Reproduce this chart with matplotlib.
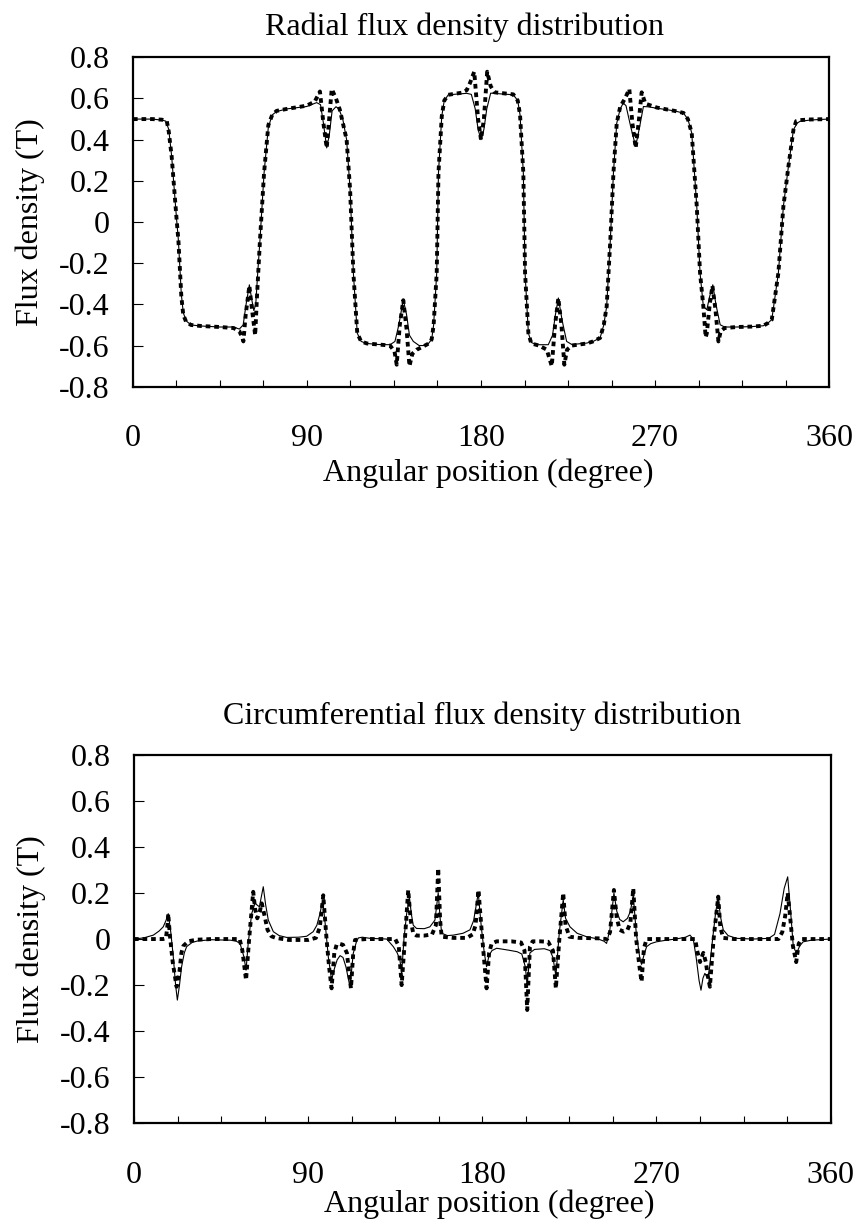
import matplotlib
matplotlib.use("Agg")
import matplotlib.pyplot as plt
from matplotlib.ticker import FixedLocator, MultipleLocator

plt.rcParams['font.family'] = ['Liberation Serif', 'DejaVu Serif']
plt.rcParams['font.size'] = 23

# radial flux density, thin solid line
rad_solid_deg = [0, 10, 15, 17, 18.5, 20, 21, 22.5, 23.5, 25, 26, 27.5, 30, 35, 45, 52, 55, 57, 58.5, 60.2,
                 61.5, 62.5, 63.5, 64.5, 65.7, 67.8, 70, 72, 74.3, 80, 89.8, 95, 97, 98.5, 100.2, 101.5, 103, 105,
                 106.5, 108.5, 110.5, 112.3, 114, 116, 118, 121, 127, 133, 135.5, 137.5, 139.8, 141.5, 143, 145,
                 148, 152, 154.5, 155.5, 157.1, 158, 159.7, 161, 163.1, 172.6, 175, 177, 178.5, 180, 181.5, 183,
                 185, 196.7, 199, 200.2, 201.9, 202.8, 204.5, 206, 208.8, 214.8, 217, 218.5, 220, 222, 224.3, 227,
                 234.7, 238, 241.6, 243.5, 245, 246.9, 248.5, 250.2, 252, 253.6, 255, 257.5, 260, 262, 264, 266,
                 270.9, 280, 284.7, 287, 289, 291.6, 293.3, 295, 296.8, 298.3, 299.9, 301.5, 303.7, 306, 312.3, 320,
                 326, 328.5, 330.4, 333.8, 336.4, 339, 341.6, 343.5, 345, 350, 355, 360]
rad_solid_val = [0.50, 0.50, 0.495, 0.49, 0.45, 0.32, 0.20, 0.02, -0.09, -0.35, -0.44, -0.48, -0.50, -0.505, -0.51,
                 -0.51, -0.52, -0.50, -0.40, -0.305, -0.38, -0.43, -0.40, -0.25, -0.086, 0.238, 0.46, 0.52, 0.537,
                 0.55, 0.561, 0.58, 0.57, 0.48, 0.36, 0.42, 0.54, 0.56, 0.55, 0.50, 0.40, 0.157, -0.248, -0.54,
                 -0.58, -0.59, -0.595, -0.596, -0.58, -0.50, -0.377, -0.45, -0.55, -0.58, -0.60, -0.60, -0.57,
                 -0.50, -0.248, 0.238, 0.513, 0.59, 0.618, 0.625, 0.62, 0.55, 0.45, 0.40, 0.45, 0.55, 0.626, 0.618,
                 0.59, 0.52, 0.238, -0.248, -0.539, -0.585, -0.596, -0.596, -0.55, -0.45, -0.369, -0.48, -0.58,
                 -0.595, -0.588, -0.58, -0.563, -0.50, -0.41, -0.086, 0.238, 0.48, 0.55, 0.578, 0.565, 0.46, 0.367,
                 0.46, 0.561, 0.56, 0.553, 0.54, 0.529, 0.50, 0.432, 0.076, -0.248, -0.41, -0.426, -0.36, -0.305,
                 -0.40, -0.499, -0.51, -0.51, -0.508, -0.504, -0.49, -0.474, -0.248, 0.076, 0.27, 0.448, 0.48,
                 0.489, 0.495, 0.498, 0.50]

# radial flux density, heavy dotted line
rad_dot_deg = [0, 10, 15, 17.5, 18.5, 20, 21, 22.5, 23.5, 25, 26, 27.5, 30, 35, 45, 52, 55, 56.5, 57.1, 58.3, 60.2,
               61.5, 63.2, 64.2, 65.7, 67.8, 70, 72, 74.3, 80, 89.8, 94, 96.7, 98.5, 100.2, 101.5, 102.8, 105, 107,
               110.5, 112.3, 114, 116, 118, 121, 127, 133, 135.3, 136.4, 138, 139.8, 141.5, 143, 144.5, 146.8, 150,
               153, 154.5, 155.5, 157.1, 158, 159.7, 161, 163.1, 170, 172.6, 174.3, 176.5, 178.5, 180, 181.5, 183.2,
               185, 187, 196.7, 199, 200.2, 201.9, 202.8, 204.5, 206, 210, 214, 216.6, 218.3, 220, 221.6, 223.1,
               224.5, 227, 234.7, 238, 241.6, 243.5, 245, 246.9, 248.5, 250.2, 252, 254.5, 256.7, 258.3, 260, 261.5,
               263.1, 265, 270.9, 280, 284.7, 287, 289, 291.6, 293.3, 295, 296.2, 296.8, 298.3, 299.7, 301.2, 302.8,
               304, 306, 312.3, 320, 326, 328.5, 330.4, 333.8, 336.4, 339, 341.6, 343, 345, 350, 360]
rad_dot_val = [0.50, 0.50, 0.497, 0.49, 0.44, 0.32, 0.20, 0.02, -0.09, -0.36, -0.45, -0.485, -0.50, -0.505, -0.51,
               -0.515, -0.53, -0.56, -0.58, -0.45, -0.31, -0.42, -0.55, -0.35, -0.086, 0.238, 0.47, 0.52, 0.54, 0.55,
               0.565, 0.585, 0.634, 0.48, 0.36, 0.50, 0.646, 0.60, 0.545, 0.40, 0.157, -0.248, -0.54, -0.58, -0.59,
               -0.595, -0.60, -0.63, -0.693, -0.50, -0.38, -0.52, -0.70, -0.64, -0.62, -0.605, -0.59, -0.57, -0.50,
               -0.248, 0.238, 0.513, 0.59, 0.618, 0.628, 0.64, 0.675, 0.73, 0.50, 0.40, 0.50, 0.73, 0.66, 0.63,
               0.62, 0.59, 0.52, 0.238, -0.248, -0.539, -0.59, -0.60, -0.62, -0.70, -0.50, -0.37, -0.50, -0.693,
               -0.62, -0.60, -0.59, -0.58, -0.563, -0.50, -0.41, -0.086, 0.238, 0.48, 0.56, 0.60, 0.646, 0.48, 0.36,
               0.48, 0.63, 0.575, 0.556, 0.54, 0.53, 0.50, 0.432, 0.076, -0.248, -0.41, -0.56, -0.54, -0.40, -0.31,
               -0.42, -0.58, -0.53, -0.515, -0.51, -0.508, -0.504, -0.49, -0.474, -0.248, 0.076, 0.27, 0.448, 0.49,
               0.495, 0.498, 0.50]

# circumferential flux density, thin solid line
circ_solid_deg = [0, 5, 10, 13, 15.1, 16.5, 17.7, 19, 20.3, 21.5, 22.4, 23.5, 24.6, 26, 27.2, 30, 33, 40, 50, 53,
                  54.8, 56.8, 57.9, 59, 60.8, 62.5, 64.8, 66.8, 68, 69.4, 72, 75, 78.9, 85, 89.2, 92.6, 94.5, 96.1,
                  97.5, 99, 100.4, 102.1, 103.5, 105, 106.5, 108, 109.5, 111.6, 113.3, 115, 116, 118, 122, 130.6,
                  134, 136, 137.4, 138.3, 139.5, 140.9, 142.3, 143.3, 144.3, 146, 150, 152.9, 155.5, 157.2, 158.2,
                  159, 162, 165, 170, 173.6, 175.5, 177.9, 179.5, 181, 182.2, 183.5, 185, 187.4, 193.4, 198, 200.4,
                  202.2, 203.2, 204, 204.6, 207, 212, 215, 216.5, 218, 219.8, 221.8, 223, 225.3, 229, 233.9, 240,
                  243, 244.2, 245.9, 248, 249.5, 251, 252.8, 255, 256.5, 258, 259.5, 261.5, 262.3, 263.5, 264.9,
                  267, 270, 275, 280, 285, 287.3, 289, 290.5, 292, 293, 294, 295, 296.5, 297.5, 299, 300.5, 301.9,
                  303, 304.5, 307, 311.4, 320, 328, 331, 333.8, 336, 337.8, 339.3, 340.7, 342.4, 344, 345.8, 350, 360]
circ_solid_val = [0.0, 0.005, 0.017, 0.035, 0.053, 0.08, 0.11, 0.03, -0.077, -0.20, -0.265, -0.20, -0.12, -0.06,
                  -0.033, -0.015, -0.008, -0.003, -0.005, -0.01, -0.019, -0.077, -0.135, -0.02, 0.11, 0.155, 0.14,
                  0.227, 0.15, 0.082, 0.032, 0.015, 0.007, 0.008, 0.012, 0.032, 0.06, 0.11, 0.17, 0.05, -0.077,
                  -0.178, -0.13, -0.09, -0.072, -0.08, -0.12, -0.207, -0.062, -0.01, 0.005, 0.008, 0.003, 0.0,
                  -0.033, -0.06, -0.09, -0.149, 0.0, 0.11, 0.184, 0.11, 0.06, 0.046, 0.045, 0.053, 0.082, 0.2, 0.09,
                  0.025, 0.015, 0.017, 0.025, 0.04, 0.08, 0.2, 0.05, -0.06, -0.12, -0.07, -0.05, -0.04, -0.048,
                  -0.055, -0.065, -0.12, -0.20, -0.12, -0.06, -0.045, -0.042, -0.05, -0.08, -0.16, 0.03, 0.17, 0.09,
                  0.053, 0.025, 0.01, 0.0, -0.01, -0.019, 0.04, 0.20, 0.12, 0.085, 0.075, 0.09, 0.12, 0.19, 0.03,
                  -0.09, -0.11, -0.07, -0.033, -0.02, -0.012, -0.005, 0.0, 0.008, 0.017, 0.0, -0.08, -0.18, -0.222,
                  -0.17, -0.149, -0.17, -0.12, 0.0, 0.11, 0.184, 0.10, 0.04, 0.015, 0.003, 0.0, 0.003, 0.02, 0.11,
                  0.22, 0.27, 0.12, -0.033, -0.062, -0.03, -0.012, -0.005, 0.0]

# circumferential flux density, heavy dotted line
circ_dot_deg = [0, 15, 16.5, 17.3, 17.7, 18.5, 20, 22, 23.5, 24.5, 25.5, 28, 32, 40, 54.6, 56, 57.9, 59.5, 61.6,
                62.6, 63.7, 65, 66, 67.5, 69, 71, 73.3, 80, 90, 94, 96, 97.8, 99.5, 100.8, 102.1, 103.5, 104.7, 106,
                108, 110, 112.1, 113.3, 114.2, 120, 135, 136.8, 138.3, 140, 141.7, 143, 144.3, 146, 150, 154, 156,
                157.2, 158.2, 159, 165, 172, 175, 176.5, 178, 180, 182.2, 183.5, 184.8, 187.4, 195, 200, 201.8,
                203.2, 204.6, 206, 210, 214, 216.5, 218, 219.8, 221.8, 223, 225, 230, 240, 244.5, 246, 248, 249.5,
                251, 253, 255, 256.5, 258, 259.5, 261.5, 262.3, 263.5, 264.9, 270, 290, 291, 292.5, 294.2, 295.5,
                296.5, 297.6, 299.5, 301.9, 303, 304.5, 310, 333, 335, 336.5, 337.8, 339, 340.5, 342.2, 343.5, 345,
                360]
circ_dot_val = [0.0, 0.0, 0.003, 0.06, 0.11, 0.02, -0.10, -0.207, -0.14, -0.06, -0.03, -0.01, -0.003, 0.0, 0.0,
                -0.05, -0.178, 0.0, 0.205, 0.13, 0.09, 0.12, 0.155, 0.10, 0.04, 0.012, 0.005, -0.004, -0.004, 0.005,
                0.05, 0.19, 0.0, -0.12, -0.214, -0.06, -0.025, -0.02, -0.025, -0.06, -0.214, -0.06, -0.004, 0.0,
                0.0, -0.03, -0.2, 0.0, 0.213, 0.08, 0.025, 0.015, 0.015, 0.02, 0.06, 0.307, 0.08, 0.01, 0.005,
                0.005, 0.02, 0.06, 0.213, 0.0, -0.214, -0.06, -0.02, -0.01, -0.01, -0.015, -0.05, -0.308, -0.033,
                -0.01, -0.01, -0.012, -0.05, -0.214, 0.0, 0.20, 0.06, 0.01, 0.005, 0.003, 0.0, 0.03, 0.213, 0.09,
                0.04, 0.032, 0.04, 0.07, 0.22, 0.0, -0.14, -0.185, -0.04, 0.0, 0.0, 0.0, -0.05, -0.10, -0.06,
                -0.10, -0.16, -0.207, 0.0, 0.184, 0.05, 0.005, 0.0, 0.0, 0.03, 0.10, 0.20, 0.10, -0.03, -0.10,
                -0.02, 0.0, 0.0]

x_labels = ['0', '90', '180', '270', '360']
y_values = [0.8, 0.6, 0.4, 0.2, 0, -0.2, -0.4, -0.6, -0.8]
y_labels = ['0.8', '0.6', '0.4', '0.2', '0', '-0.2', '-0.4', '-0.6', '-0.8']

fig = plt.figure(figsize=(8.59, 12.30), dpi=100)
ax1 = fig.add_axes([0.1548, 0.6856, 0.8103, 0.2678])
ax2 = fig.add_axes([0.1560, 0.0867, 0.8110, 0.2997])


def style(ax, title, title_x, title_pad, xlabel_pad):
    ax.set_xlim(0, 360)
    ax.set_ylim(-0.8, 0.8)
    ax.xaxis.set_major_locator(FixedLocator([0, 90, 180, 270, 360]))
    ax.set_xticklabels(x_labels)
    ax.xaxis.set_minor_locator(MultipleLocator(22.5))
    ax.set_yticks(y_values)
    ax.set_yticklabels(y_labels)
    ax.tick_params(axis='x', which='both', direction='in', length=5, width=0.8, pad=27, top=False)
    ax.tick_params(axis='y', direction='in', length=7, width=0.8, pad=17, right=False)
    for s in ax.spines.values():
        s.set_linewidth(1.6)
    ax.set_xlabel('Angular position (degree)', labelpad=xlabel_pad, x=0.51)
    ax.set_ylabel('Flux density (T)', labelpad=10)
    ax.set_title(title, fontsize=23, pad=title_pad, x=title_x)


ax1.plot(rad_solid_deg, rad_solid_val, color='black', lw=0.8)
ax1.plot(rad_dot_deg, rad_dot_val, color='black', lw=2.8, dashes=(1.2, 1.0))
style(ax1, 'Radial flux density distribution', 0.476, 16, 4)

ax2.plot(circ_solid_deg, circ_solid_val, color='black', lw=0.8)
ax2.plot(circ_dot_deg, circ_dot_val, color='black', lw=2.8, dashes=(1.2, 1.0))
style(ax2, 'Circumferential flux density distribution', 0.5, 22, 0)

fig.savefig('out.png', dpi=100)
